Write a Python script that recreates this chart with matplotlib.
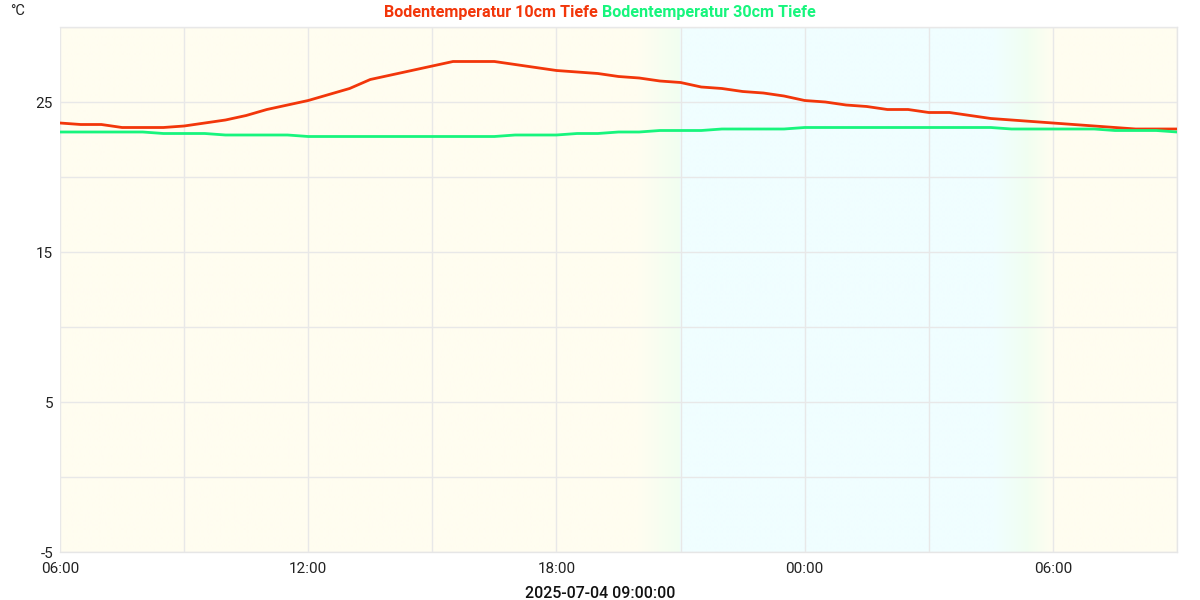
import numpy as np
import matplotlib
matplotlib.use("Agg")
import matplotlib.pyplot as plt
import matplotlib.dates as mdates
from matplotlib.ticker import MultipleLocator
from datetime import datetime, timedelta

plt.rcParams['font.family'] = ['Roboto', 'DejaVu Sans']
plt.rcParams['axes.unicode_minus'] = False

start = datetime(2025, 7, 4, 6, 0)
times = [start + timedelta(minutes=30 * i) for i in range(55)]

temp_10cm = [23.6, 23.5, 23.5, 23.3, 23.3, 23.3, 23.4, 23.6, 23.8, 24.1,
             24.5, 24.8, 25.1, 25.5, 25.9, 26.5, 26.8, 27.1, 27.4, 27.7,
             27.7, 27.7, 27.5, 27.3, 27.1, 27.0, 26.9, 26.7, 26.6, 26.4,
             26.3, 26.0, 25.9, 25.7, 25.6, 25.4, 25.1, 25.0, 24.8, 24.7,
             24.5, 24.5, 24.3, 24.3, 24.1, 23.9, 23.8, 23.7, 23.6, 23.5,
             23.4, 23.3, 23.2, 23.2, 23.2]
temp_30cm = [23.0, 23.0, 23.0, 23.0, 23.0, 22.9, 22.9, 22.9, 22.8, 22.8,
             22.8, 22.8, 22.7, 22.7, 22.7, 22.7, 22.7, 22.7, 22.7, 22.7,
             22.7, 22.7, 22.8, 22.8, 22.8, 22.9, 22.9, 23.0, 23.0, 23.1,
             23.1, 23.1, 23.2, 23.2, 23.2, 23.2, 23.3, 23.3, 23.3, 23.3,
             23.3, 23.3, 23.3, 23.3, 23.3, 23.3, 23.2, 23.2, 23.2, 23.2,
             23.2, 23.1, 23.1, 23.1, 23.0]

label_10 = "Bodentemperatur 10cm Tiefe"
label_30 = "Bodentemperatur 30cm Tiefe"
color_10 = "#f2360a"
color_30 = "#17f57d"

fig = plt.figure(figsize=(12, 6), dpi=100)
ax = fig.add_axes([60 / 1200, 48 / 600, 1117 / 1200, 525 / 600])

x0 = mdates.date2num(start)
x1 = mdates.date2num(start + timedelta(hours=27))
ymin, ymax = -5, 30

# background day/night gradient (hours after 06:00)
day = np.array([255, 253, 240]) / 255
grn = np.array([241, 255, 241]) / 255
cyn = np.array([240, 254, 255]) / 255
stops_h = [0, 14.0, 14.98, 15.0, 22.6, 23.4, 24.0, 27]
stops_c = [day, day, grn, cyn, cyn, grn, day, day]
hh = np.linspace(0, 27, 1200)
img = np.zeros((1, len(hh), 3))
for k in range(3):
    img[0, :, k] = np.interp(hh, stops_h, [c[k] for c in stops_c])
ax.imshow(img, extent=[x0, x1, ymin, ymax], aspect='auto', zorder=0, interpolation='bilinear')

ax.plot(times, temp_10cm, color=color_10, lw=2, zorder=3)
ax.plot(times, temp_30cm, color=color_30, lw=2, zorder=3)

ax.set_xlim(x0, x1)
ax.set_ylim(ymin, ymax)

ax.xaxis.set_major_locator(mdates.HourLocator(byhour=[0, 6, 12, 18]))
ax.xaxis.set_minor_locator(mdates.HourLocator(byhour=range(0, 24, 3)))
ax.xaxis.set_major_formatter(mdates.DateFormatter('%H:%M'))
ax.yaxis.set_minor_locator(MultipleLocator(5))
ax.set_yticks([-5, 5, 15, 25])

ax.grid(True, which='both', color='#e8e8e8', lw=1)
ax.set_axisbelow(False)

ax.tick_params(which='both', length=0, labelsize=11, colors='#222222', pad=5)
ax.tick_params(axis='x', pad=7)
for side in ['top', 'right', 'bottom']:
    ax.spines[side].set_color('#e6e6e6')
    ax.spines[side].set_linewidth(1)
ax.spines['left'].set_visible(False)

fig.text(10 / 1200, 1 - 11 / 600, "°C", fontsize=10.5, ha='left', va='center', color='#222222')

t1 = fig.text(0.5, 1 - 12 / 600, label_10 + " ", fontsize=11.6, fontweight='bold', color=color_10,
              ha='right', va='center')
t2 = fig.text(0.5, 1 - 12 / 600, label_30, fontsize=11.6, fontweight='bold', color=color_30,
              ha='left', va='center')
fig.canvas.draw()
r = fig.canvas.get_renderer()
w1 = t1.get_window_extent(r).width
w2 = t2.get_window_extent(r).width
cx = 0.5 * 1200 + (w1 - w2) / 2
t1.set_position((cx / 1200, 1 - 12 / 600))
t2.set_position((cx / 1200, 1 - 12 / 600))

fig.text(600 / 1200, 1 - 593 / 600, "2025-07-04 09:00:00", fontsize=11.5, fontweight='medium',
         ha='center', va='center', color='#111111')

fig.savefig("out.png", dpi=100)
